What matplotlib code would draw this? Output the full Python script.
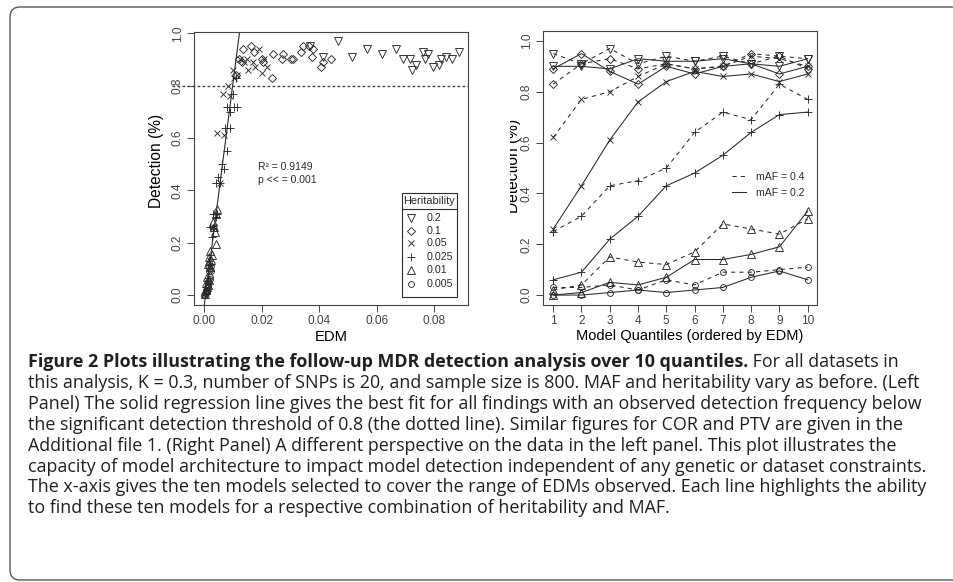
import matplotlib
matplotlib.use("Agg")
import matplotlib.pyplot as plt
from matplotlib import font_manager
from matplotlib.patches import FancyBboxPatch, Rectangle
from matplotlib.lines import Line2D
from matplotlib.transforms import Bbox, TransformedBbox

# ---- data: left panel (EDM vs detection, one array pair per heritability)
edm_h02 = [0.0467, 0.0514, 0.0568, 0.0620, 0.0668, 0.0693, 0.0717, 0.0722, 0.0737, 0.0760,
           0.0770, 0.0780, 0.0798, 0.0818, 0.0823, 0.0842, 0.0864, 0.0885, 0.0413, 0.0370]
det_h02 = [0.97, 0.91, 0.94, 0.92, 0.94, 0.90, 0.90, 0.86, 0.88, 0.93,
           0.90, 0.92, 0.87, 0.88, 0.90, 0.91, 0.90, 0.93, 0.91, 0.95]
edm_h01 = [0.0123, 0.0131, 0.0137, 0.0162, 0.0174, 0.0200, 0.0205, 0.0235, 0.0239, 0.0270, 0.0276,
           0.0303, 0.0308, 0.0336, 0.0343, 0.0365, 0.0378, 0.0374, 0.0407, 0.0413, 0.0442, 0.0112]
det_h01 = [0.90, 0.89, 0.94, 0.95, 0.93, 0.90, 0.89, 0.83, 0.92, 0.90, 0.92,
           0.90, 0.90, 0.93, 0.95, 0.95, 0.94, 0.91, 0.87, 0.89, 0.90, 0.84]
edm_h005 = [0.0035, 0.0055, 0.0046, 0.0070, 0.0067, 0.0082, 0.0090, 0.0100, 0.0114, 0.0140,
            0.0148, 0.0154, 0.0169, 0.0177, 0.0190, 0.0200, 0.0209, 0.0220, 0.0125, 0.0104]
det_h005 = [0.26, 0.43, 0.62, 0.61, 0.77, 0.80, 0.76, 0.86, 0.84, 0.89,
            0.90, 0.86, 0.89, 0.87, 0.94, 0.85, 0.90, 0.87, 0.90, 0.83]
edm_h0025 = [0.0012, 0.0015, 0.0020, 0.0027, 0.0021, 0.0032, 0.0032, 0.0044, 0.0042, 0.0042, 0.0049, 0.0056,
             0.0061, 0.0070, 0.0079, 0.0073, 0.0090, 0.0081, 0.0090, 0.0104, 0.0114, 0.0102, 0.0110]
det_h0025 = [0.045, 0.064, 0.115, 0.22, 0.26, 0.255, 0.31, 0.31, 0.30, 0.43, 0.45, 0.43,
             0.50, 0.48, 0.55, 0.64, 0.64, 0.72, 0.70, 0.72, 0.72, 0.77, 0.83]
edm_h001 = [0.0002, 0.0005, 0.0007, 0.0009, 0.0009, 0.0016, 0.0020, 0.0023, 0.0016, 0.0026,
            0.0020, 0.0042, 0.0038, 0.0036, 0.0030, 0.0042, 0.0046, 0.0012, 0.0014, 0.0018]
det_h001 = [0.005, 0.02, 0.045, 0.03, 0.07, 0.057, 0.108, 0.134, 0.146, 0.153,
            0.17, 0.195, 0.24, 0.26, 0.28, 0.31, 0.33, 0.04, 0.12, 0.13]
edm_h0005 = [0.0000, 0.0002, 0.0005, 0.0007, 0.0009, 0.0012, 0.0015, 0.0019, 0.0021, 0.0023,
             0.0025, 0.0016, 0.0005, 0.0008, 0.0003, 0.0010, 0.0013, 0.0017, 0.0020, 0.0011]
det_h0005 = [0.00, 0.006, 0.017, 0.02, 0.03, 0.04, 0.05, 0.06, 0.07, 0.09,
             0.11, 0.106, 0.006, 0.013, 0.00, 0.02, 0.03, 0.09, 0.10, 0.01]

REG_INTERCEPT = -0.045
REG_SLOPE = 85.0
THRESH = 0.8
R2_TEXT = "R² = 0.9149"
P_TEXT = "p << = 0.001"

# ---- data: right panel (model quantile vs detection, mAF 0.4 dashed / 0.2 solid)
quantiles = [1, 2, 3, 4, 5, 6, 7, 8, 9, 10]
h02_maf04 = [0.95, 0.91, 0.97, 0.91, 0.94, 0.92, 0.94, 0.91, 0.94, 0.93]
h02_maf02 = [0.90, 0.90, 0.89, 0.93, 0.92, 0.92, 0.93, 0.91, 0.90, 0.93]
h01_maf04 = [0.83, 0.91, 0.93, 0.89, 0.91, 0.89, 0.90, 0.95, 0.94, 0.89]
h01_maf02 = [0.89, 0.95, 0.88, 0.83, 0.90, 0.87, 0.90, 0.91, 0.87, 0.90]
h005_maf04 = [0.62, 0.77, 0.80, 0.86, 0.91, 0.89, 0.90, 0.94, 0.93, 0.90]
h005_maf02 = [0.26, 0.43, 0.61, 0.76, 0.84, 0.88, 0.86, 0.87, 0.84, 0.87]
h0025_maf04 = [0.25, 0.31, 0.43, 0.45, 0.50, 0.64, 0.72, 0.69, 0.83, 0.77]
h0025_maf02 = [0.06, 0.09, 0.22, 0.31, 0.43, 0.48, 0.55, 0.64, 0.71, 0.72]
h001_maf04 = [0.02, 0.04, 0.15, 0.13, 0.12, 0.17, 0.28, 0.26, 0.24, 0.30]
h001_maf02 = [0.00, 0.01, 0.05, 0.04, 0.07, 0.14, 0.14, 0.16, 0.19, 0.33]
h0005_maf04 = [0.03, 0.03, 0.04, 0.02, 0.06, 0.04, 0.09, 0.09, 0.10, 0.11]
h0005_maf02 = [0.00, 0.00, 0.01, 0.02, 0.01, 0.02, 0.03, 0.07, 0.095, 0.06]

herit_labels = ["0.2", "0.1", "0.05", "0.025", "0.01", "0.005"]
maf_labels = ["mAF = 0.4", "mAF = 0.2"]

caption_bold = "Figure 2 Plots illustrating the follow-up MDR detection analysis over 10 quantiles."
caption_lines = [
    " For all datasets in",
    "this analysis, K = 0.3, number of SNPs is 20, and sample size is 800. MAF and heritability vary as before. (Left",
    "Panel) The solid regression line gives the best fit for all findings with an observed detection frequency below",
    "the significant detection threshold of 0.8 (the dotted line). Similar figures for COR and PTV are given in the",
    "Additional file 1. (Right Panel) A different perspective on the data in the left panel. This plot illustrates the",
    "capacity of model architecture to impact model detection independent of any genetic or dataset constraints.",
    "The x-axis gives the ten models selected to cover the range of EDMs observed. Each line highlights the ability",
    "to find these ten models for a respective combination of heritability and MAF.",
]
# right end (px) of each caption line in the reference, line 1 includes the bold part
caption_ends = [903, 937, 942, 838, 893, 948, 948, 660]

# ---- style
INK = "#2a2a2a"
plt.rcParams["font.family"] = ["Liberation Sans", "DejaVu Sans"]
plt.rcParams["text.color"] = INK
plt.rcParams["axes.edgecolor"] = "#444444"
plt.rcParams["xtick.color"] = "#444444"
plt.rcParams["ytick.color"] = "#444444"

markers = {"0.2": ("v", 5.6), "0.1": ("D", 4.3), "0.05": ("x", 4.8),
           "0.025": ("+", 6.0), "0.01": ("^", 5.6), "0.005": ("o", 4.2)}

W, H = 954, 582
fig = plt.figure(figsize=(W / 100, H / 100), dpi=100)


def px_box(l, t, r, b):
    return [l / W, 1 - b / H, (r - l) / W, (b - t) / H]


# figure frame (rounded, open to the right)
frame = FancyBboxPatch((10, 2), 980, 573, boxstyle="round,pad=0,rounding_size=10",
                       transform=None, fill=False, edgecolor="#555555", linewidth=1.0)
fig.patches.append(frame)

ax1 = fig.add_axes(px_box(194, 32, 468, 305))
ax2 = fig.add_axes(px_box(543, 31, 817, 305))

# ---- left panel
left_sets = [(edm_h02, det_h02), (edm_h01, det_h01), (edm_h005, det_h005),
             (edm_h0025, det_h0025), (edm_h001, det_h001), (edm_h0005, det_h0005)]
for lab, (ex, dy) in zip(herit_labels, left_sets):
    mk, ms = markers[lab]
    ax1.plot(ex, dy, ls="none", marker=mk, ms=ms, mfc="none", mec=INK, mew=0.65)

ax1.axline((0, REG_INTERCEPT), slope=REG_SLOPE, color=INK, lw=0.8)
ax1.plot([-0.08, 1.0], [THRESH, THRESH], transform=ax1.get_yaxis_transform(),
         clip_on=False, color="#444444", lw=1.0, ls=(0, (2, 1.6)))

ax1.set_xlim(-0.0035, 0.0918)
ax1.set_ylim(-0.038, 1.005)
ax1.set_xticks([0, 0.02, 0.04, 0.06, 0.08])
ax1.set_xticklabels(["0.00", "0.02", "0.04", "0.06", "0.08"])
ax1.set_yticks([0, 0.2, 0.4, 0.6, 0.8, 1.0])
ax1.set_yticklabels(["0.0", "0.2", "0.4", "0.6", "0.8", "1.0"], rotation=90, va="center")
ax1.set_xlabel("EDM", fontsize=10.6)
ax1.set_ylabel("Detection (%)", fontsize=11.2)
ax1.xaxis.set_label_coords(0.5, -0.117)
ax1.yaxis.set_label_coords(-0.136, 0.527)
ax1.xaxis.label.set_va("center")
ax1.yaxis.label.set_va("center")

ax1.text(0.235, 0.507, R2_TEXT, transform=ax1.transAxes, fontsize=7.5, va="center")
ax1.text(0.235, 0.458, P_TEXT, transform=ax1.transAxes, fontsize=7.5, va="center")

# heritability legend box (R style, title in its own cell)
lx0, lx1, ly0, ly1, lsep = 0.758, 0.959, 0.028, 0.411, 0.350
ax1.add_patch(Rectangle((lx0, ly0), lx1 - lx0, ly1 - ly0, transform=ax1.transAxes,
                        fill=False, edgecolor=INK, lw=0.8, clip_on=False))
ax1.plot([lx0, lx1], [lsep, lsep], transform=ax1.transAxes, color=INK, lw=0.8, clip_on=False)
ax1.text((lx0 + lx1) / 2, (ly1 + lsep) / 2, "Heritability", transform=ax1.transAxes,
         fontsize=7.9, ha="center", va="center")
row_y = [0.320, 0.272, 0.226, 0.177, 0.128, 0.077]
for lab, ry in zip(herit_labels, row_y):
    mk, ms = markers[lab]
    ax1.plot([0.792], [ry], transform=ax1.transAxes, ls="none", marker=mk, ms=ms,
             mfc="none", mec=INK, mew=0.65, clip_on=False)
    ax1.text(0.849, ry, lab, transform=ax1.transAxes, fontsize=7.7, va="center")

# ---- right panel
right_sets = [(h02_maf04, h02_maf02), (h01_maf04, h01_maf02), (h005_maf04, h005_maf02),
              (h0025_maf04, h0025_maf02), (h001_maf04, h001_maf02), (h0005_maf04, h0005_maf02)]
for lab, (d04, d02) in zip(herit_labels, right_sets):
    mk, ms = markers[lab]
    ax2.plot(quantiles, d04, color=INK, lw=0.75, ls=(0, (4, 4)), marker=mk, ms=ms,
             mfc="none", mec=INK, mew=0.65)
    ax2.plot(quantiles, d02, color=INK, lw=0.75, ls="-", marker=mk, ms=ms,
             mfc="none", mec=INK, mew=0.65)

ax2.set_xlim(0.64, 10.33)
ax2.set_ylim(-0.039, 1.039)
ax2.set_xticks(quantiles)
ax2.set_yticks([0, 0.2, 0.4, 0.6, 0.8, 1.0])
ax2.set_yticklabels(["0.0", "0.2", "0.4", "0.6", "0.8", "1.0"], rotation=90, va="center")
ax2.set_xlabel("Model Quantiles (ordered by EDM)", fontsize=10.5)
ax2.set_ylabel("Detection (%)", fontsize=11.2)
ax2.xaxis.set_label_coords(0.536, -0.113)
ax2.yaxis.set_label_coords(-0.109, 0.507)
ax2.xaxis.label.set_va("center")
ax2.yaxis.label.set_va("center")
# the right panel was cropped in the source figure: its y label is cut at x = 510 px
ax2.yaxis.label.set_clip_box(TransformedBbox(Bbox([[510 / W, 0], [1, 1]]), fig.transFigure))
ax2.yaxis.label.set_clip_on(True)

handles = [Line2D([], [], color=INK, lw=0.75, ls=(0, (4, 4))),
           Line2D([], [], color=INK, lw=0.75, ls="-")]
ax2.legend(handles, maf_labels, frameon=False, loc="center left",
           bbox_to_anchor=(0.689, 0.4385), borderpad=0, borderaxespad=0,
           handlelength=1.32, handletextpad=1.0, labelspacing=0.55, fontsize=7.6)

for ax in (ax1, ax2):
    ax.tick_params(direction="out", length=5, width=0.7, labelsize=8.6, pad=2.5)
    for sp in ax.spines.values():
        sp.set_linewidth(0.8)

# ---- caption
names = {f.name for f in font_manager.fontManager.ttflist}
cap_font = [n for n in ["Open Sans", "Noto Sans", "Lato"] if n in names][:1] + ["DejaVu Sans"]
CAP_COLOR = "#231f20"
x0 = 28
renderer = fig.canvas.get_renderer()


def line_width(parts, size):
    w = 0
    for txt, wt in parts:
        t = fig.text(0, 0, txt, fontsize=size, family=cap_font, weight=wt)
        w += t.get_window_extent(renderer=renderer).width
        t.remove()
    return w


line_parts = [[(caption_bold, "bold"), (caption_lines[0], "normal")]] + \
             [[(ln, "normal")] for ln in caption_lines[1:]]
widths = [line_width(parts, 12) for parts in line_parts]
# match the reference line lengths on the whole, but never run past the right edge
mean_ratio = sum(e - x0 for e in caption_ends) / sum(widths)
edge_ratio = min((949 - x0) / w for w in widths)
cap_size = 12 * min(mean_ratio, edge_ratio)

base0 = 367
step = 20.9
tb = fig.text(x0 / W, 1 - base0 / H, caption_bold, fontsize=cap_size, family=cap_font,
              weight="bold", va="baseline", color=CAP_COLOR)
bw = tb.get_window_extent(renderer=renderer).x1
fig.text(bw / W, 1 - base0 / H, caption_lines[0], fontsize=cap_size, family=cap_font,
         va="baseline", color=CAP_COLOR)
for i, line in enumerate(caption_lines[1:], start=1):
    fig.text(x0 / W, 1 - (base0 + i * step) / H, line, fontsize=cap_size, family=cap_font,
             va="baseline", color=CAP_COLOR)

fig.savefig("out.png", dpi=100)
